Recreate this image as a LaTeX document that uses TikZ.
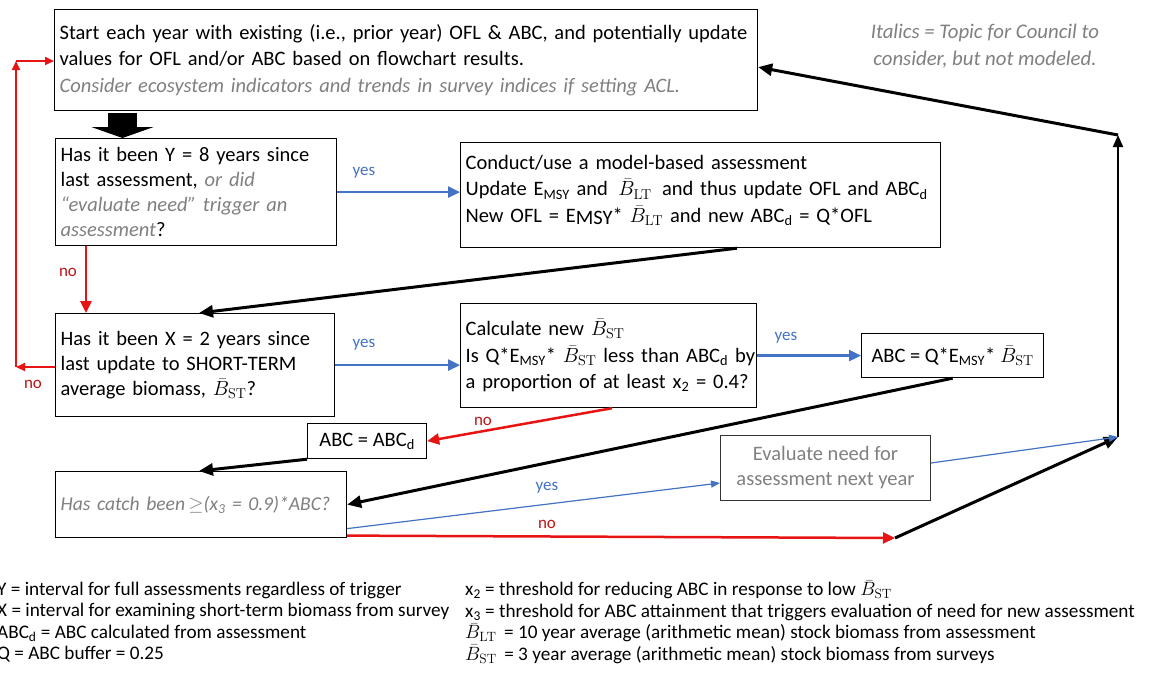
\RequirePackage{fix-cm}
\documentclass[tikz,border=0pt]{standalone}
\usepackage[no-math]{fontspec}
\setmainfont{Carlito}
\usetikzlibrary{arrows.meta,calc}
\definecolor{myblue}{RGB}{68,114,196}
\definecolor{myred}{RGB}{232,20,20}
\definecolor{labred}{RGB}{192,20,20}
\definecolor{mygray}{RGB}{128,128,128}
\newcommand{\Blt}{$\bar{B}_{\mathrm{LT}}$}
\newcommand{\Bst}{$\bar{B}_{\mathrm{ST}}$}
\newcommand{\Emsy}{E\textsubscript{MSY}}
\newcommand{\ABCd}{ABC\textsubscript{d}}
\newcommand{\fsA}{\fontsize{20.5}{25}\selectfont}
\newcommand{\fsB}{\fontsize{20.5}{26.5}\selectfont}
\newcommand{\fsL}{\fontsize{19.2}{21.5}\selectfont}
\begin{document}
\begin{tikzpicture}[x=1pt,y=-1pt,
  box/.style={draw=black, line width=1.2pt, anchor=north west, inner xsep=5pt, inner ysep=0pt, align=left, font=\fsA},
  blk/.style={draw=black, line width=3pt, -{Triangle[length=14pt,width=12pt]}},
  blkthin/.style={draw=black, line width=2pt, -{Triangle[length=12pt,width=10pt]}},
  rd/.style={draw=myred, line width=2.5pt, -{Triangle[length=12pt,width=11pt]}},
  rdsmall/.style={draw=myred, line width=2pt, -{Triangle[length=9pt,width=8pt]}},
  bl/.style={draw=myblue, line width=2.5pt, -{Triangle[length=12pt,width=11pt]}},
  blthin/.style={draw=myblue, line width=1.2pt, -{Triangle[length=9pt,width=7pt]}},
  yeslab/.style={text=myblue, font=\fontsize{17}{20}\selectfont, inner sep=0pt},
  nolab/.style={text=labred, font=\fontsize{17}{20}\selectfont, inner sep=0pt},
  gi/.style={text=mygray, font=\fsA\itshape}
]
\path[fill=white, use as bounding box] (0,0) rectangle (1154,673);

% boxes
\node[box, minimum width=703pt, minimum height=101pt, text width=693pt, font=\fsB] (top) at (54,9)
 {\mbox{Start each year with existing (i.e., prior year) OFL \& ABC, and potentially update}\\
  values for OFL and/or ABC based on flowchart results.\\
  \mbox{\color{mygray}\itshape Consider ecosystem indicators and trends in survey indices if setting ACL.}};

\node[gi, align=center, font=\fontsize{20.8}{27}\selectfont\itshape] (note) at (985,46)
 {Italics = Topic for Council to\\ consider, but not modeled.};

\node[box, minimum width=281pt, minimum height=107pt, text width=271pt] (b2) at (55,138)
 {\mbox{Has it been Y = 8 years since}\\
  \mbox{last assessment, {\color{mygray}\itshape or did}}\\
  \mbox{\color{mygray}\itshape “evaluate need” trigger an}\\
  {\color{mygray}\itshape assessment}?};

\node[box, minimum width=480pt, minimum height=105pt, text width=470pt, font=\fsB] (b3) at (460,142)
 {Conduct/use a model-based assessment\\
  \mbox{Update \Emsy{} and \,\Blt{} \,and thus update OFL and \ABCd}\\
  \mbox{New OFL = E\raisebox{-0.25ex}{MSY}* \Blt{} and new \ABCd{} = Q*OFL}\\[-14pt]\mbox{}};

\node[box, minimum width=279pt, minimum height=103pt, text width=269pt] (b4) at (55,313)
 {\mbox{Has it been X = 2 years since}\\
  \mbox{last update to SHORT-TERM}\\
  \mbox{average biomass, \Bst?}};

\node[box, minimum width=296pt, minimum height=104pt, text width=286pt, font=\fsB] (b5) at (460,303)
 {Calculate new \Bst\\
  \mbox{Is Q*\Emsy* \Bst{} less than \ABCd{} by}\\
  \mbox{a proportion of at least x\textsubscript{2} = 0.4?}};

\node[box, minimum width=182pt, minimum height=44pt, align=center] (b6) at (861,333)
 {ABC = Q*\Emsy* \Bst};

\node[box, minimum width=119pt, minimum height=35pt, align=center] (b7) at (307,423)
 {ABC = \ABCd};

\node[box, minimum width=291pt, minimum height=66pt, text width=281pt, font=\fontsize{19.6}{24}\selectfont] (b8) at (55,471)
 {\mbox{\color{mygray}\itshape Has catch been\,$\geq$(x\textsubscript{3} = 0.9)*ABC?}};

\node[box, draw=black!80, line width=1pt, minimum width=210pt, minimum height=65pt, align=center, text=mygray] (ev) at (720,435)
 {Evaluate need for\\ assessment next year};

% legend
\node[anchor=west, font=\fsL, align=left, inner sep=0pt] (leg1) at (-3,622)
 {Y = interval for full assessments regardless of trigger\\
  X = interval for examining short-term biomass from survey\\
  \ABCd{} = ABC calculated from assessment\\
  Q = ABC buffer = 0.25};
\node[anchor=west, font=\fsL, align=left, inner sep=0pt] (leg2) at (465,622)
 {x\textsubscript{2} = threshold for reducing ABC in response to low \Bst\\
  x\textsubscript{3} = threshold for ABC attainment that triggers evaluation of need for new assessment\\
  \Blt{} \,= 10 year average (arithmetic mean) stock biomass from assessment\\
  \Bst{} \,= 3 year average (arithmetic mean) stock biomass from surveys};

% big down arrow
\coordinate (bigA) at (122.5,113);
\draw[line width=29pt, -{Triangle[length=11pt,width=62pt]}] (bigA) -- (bigA |- b2.north);

% connectors
\draw[bl] (b2.east) -- (b2.east -| b3.west);
\node[yeslab] (y1) at (364,173) {yes};

\draw[blk] ([xshift=277pt]b3.south west) -- ([xshift=144pt]b4.north west);

\draw[rd] ([xshift=31pt]b2.south west) -- ([xshift=31pt]b4.north west);
\node[nolab] (n1) at (68,272) {no};

\coordinate (L1) at (16,367);
\coordinate (L2) at (16,61);
\draw[rdsmall] (b4.west |- L1) -- (L1);
\draw[rdsmall] (L1) -- (L2);
\draw[rdsmall] (L2) -- (L2 -| top.west);
\node[nolab] (n2) at (33,384) {no};

\draw[bl] (b4.east) -- (b4.east -| b5.west);
\node[yeslab] (y2) at (364,345) {yes};

\draw[bl] (b6.west -| b5.east) -- (b6.west);
\node[yeslab] (y3) at (786,338) {yes};

\draw[rd] ([xshift=152pt]b5.south west) -- (b7.east);
\node[nolab] (n3) at (483,421) {no};

\draw[blk] (b7.south west) -- ([xshift=144pt]b8.north west);
\draw[blk] (b6.south) -- (b8.east);

\draw[blthin] ([yshift=-24pt]b8.east) -- ([yshift=-15pt]ev.west);
\node[yeslab] (y4) at (547,488) {yes};

\coordinate (C1) at (895,538);
\coordinate (C2) at (1118,437);
\coordinate (C3) at (1118,135);
\draw[rd] ([yshift=-31pt]b8.east) -- (C1);
\node[nolab] (n4) at (547,524) {no};
\draw[blk] (C1) -- (C2);
\draw[blthin] ([yshift=5pt]ev.east) -- (C2);
\draw[blkthin] (C2) -- (C3);
\draw[blk] (C3) -- ([yshift=-7pt]top.east);
\end{tikzpicture}
\end{document}
